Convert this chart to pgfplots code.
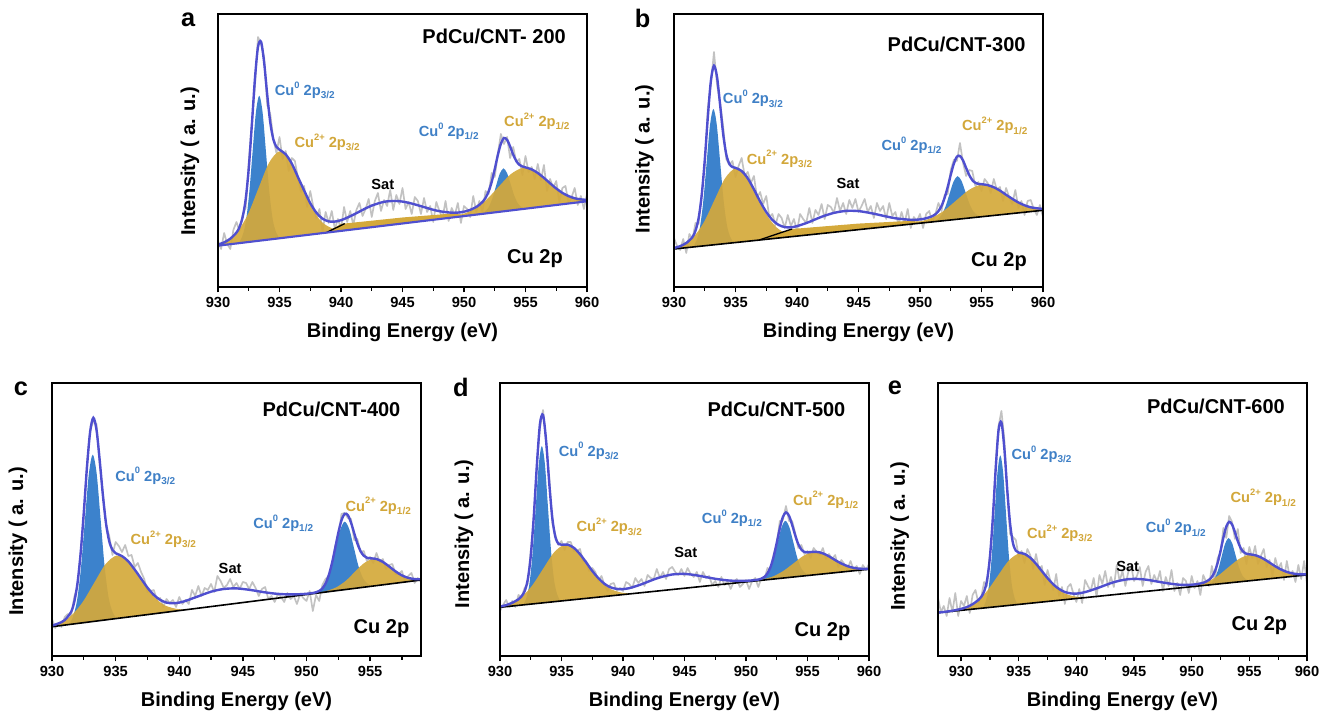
\documentclass[border=0pt]{standalone}
\usepackage{fontspec}
\setmainfont{Liberation Sans}
\usepackage{pgfplots}
\pgfplotsset{compat=1.18}
\definecolor{cublue}{HTML}{3C82CC}
\definecolor{cugold}{HTML}{D4A93B}
\definecolor{envc}{HTML}{4F4FCF}
\definecolor{rawgray}{HTML}{C2C2C2}
\definecolor{lblblue}{HTML}{3F80C6}
\definecolor{lblgold}{HTML}{D2A73A}
\newcommand{\sups}[1]{\raisebox{0.95ex}{\fontsize{7}{7}\selectfont #1}}
\newcommand{\subs}[1]{\raisebox{-0.45ex}{\fontsize{7.5}{7.5}\selectfont #1}}
\pgfplotsset{xpsaxis/.style={
  scale only axis, width=276.75pt, height=204.75pt, anchor=south west,
  ymin=0, ymax=273, ytick=\empty,
  xtick distance=5, minor x tick num=1,
  tick align=outside, xtick pos=left,
  major tick length=4pt, minor tick length=3pt,
  axis line style={line width=1.3pt},
  every tick/.style={black, line width=1pt},
  tick label style={font=\fontsize{11}{11}\selectfont\bfseries},
  /pgf/number format/assume math mode=true,
  /pgf/number format/1000 sep={},
  xlabel={Binding Energy (eV)}, ylabel={Intensity ( a. u.)},
  label style={font=\fontsize{15}{15}\selectfont\bfseries},
  xlabel style={at={(axis description cs:0.5,-0.168)}, anchor=center},
  ylabel style={anchor=center},
  clip mode=individual, axis on top,
}}
\tikzset{
rawline/.style={rawgray, line width=1.25pt, line join=round},
envline/.style={envc, line width=1.8pt, smooth},
bluefill/.style={fill=cublue, draw=none, smooth},
goldfill/.style={fill=cugold, fill opacity=0.92, draw=none, smooth},
ttl/.style={anchor=east, inner sep=0pt, font=\fontsize{15}{15}\selectfont\bfseries},
lbb/.style={anchor=west, inner sep=0pt, text=lblblue, font=\fontsize{11}{11}\selectfont\bfseries},
lbg/.style={anchor=west, inner sep=0pt, text=lblgold, font=\fontsize{11}{11}\selectfont\bfseries},
sat/.style={anchor=center, inner sep=0pt, font=\fontsize{11}{11}\selectfont\bfseries},
pl/.style={anchor=center, inner sep=0pt, font=\fontsize{19}{19}\selectfont\bfseries},
}
\begin{document}
\begin{tikzpicture}
\path[use as bounding box] (0,0) rectangle (991.5pt,534pt);
% ---------------- a
\begin{axis}[xpsaxis, at={(163.5pt,318.75pt)}, xmin=930, xmax=960,
  ylabel style={at={(axis description cs:-0.076,0.46)}}]
\addplot[rawline] coordinates {(930,46)(930.25,38)(930.5,54)(930.75,43)(931,38)(931.25,57)(931.5,65)(931.75,56)(932,72)(932.25,79)(932.5,125)(932.75,165)(933,200)(933.25,250)(933.5,243)(933.75,230)(934,182)(934.25,173)(934.5,148)(934.75,134)(935,150)(935.25,128)(935.5,136)(935.75,116)(936,129)(936.25,126)(936.5,109)(936.75,95)(937,101)(937.25,80)(937.5,96)(937.75,80)(938,69)(938.25,78)(938.5,55)(938.75,75)(939,64)(939.25,76)(939.5,58)(939.75,68)(940,58)(940.25,80)(940.5,65)(940.75,76)(941,62)(941.25,77)(941.5,84)(941.75,71)(942,78)(942.25,88)(942.5,70)(942.75,86)(943,94)(943.25,76)(943.5,87)(943.75,81)(944,97)(944.25,77)(944.5,92)(944.75,83)(945,99)(945.25,78)(945.5,85)(945.75,73)(946,90)(946.25,86)(946.5,73)(946.75,89)(947,75)(947.25,81)(947.5,65)(947.75,85)(948,76)(948.25,69)(948.5,86)(948.75,66)(949,79)(949.25,72)(949.5,84)(949.75,64)(950,81)(950.25,78)(950.5,70)(950.75,91)(951,75)(951.25,86)(951.5,75)(951.75,96)(952,93)(952.25,114)(952.5,110)(952.75,133)(953,153)(953.25,143)(953.5,150)(953.75,129)(954,140)(954.25,125)(954.5,128)(954.75,112)(955,131)(955.25,115)(955.5,120)(955.75,108)(956,123)(956.25,107)(956.5,122)(956.75,96)(957,108)(957.25,99)(957.5,106)(957.75,85)(958,99)(958.25,101)(958.5,84)(958.75,90)(959,99)(959.25,82)(959.5,91)(959.75,78)(960,93)};
\addplot[fill=cugold, draw=none] coordinates {(938.8,54.3)(940,63.1)(945,69.5)(949,73.4)(950.5,71.6)};
\addplot[bluefill] coordinates {(931.70,43.9)(931.975,50.7)(932.25,64.3)(932.525,92.2)(932.80,133.4)(933.075,173.9)(933.35,191.3)(933.625,174.7)(933.90,135.0)(934.175,94.6)(934.45,67.5)(934.725,54.7)(935.00,48.7)};
\addplot[bluefill] coordinates {(951.4,72.9)(951.7,75.3)(952.0,79.6)(952.3,88.3)(952.6,100.8)(952.9,113.1)(953.2,118.6)(953.5,113.9)(953.8,102.6)(954.1,90.9)(954.4,83.2)(954.7,79.7)(955.0,78.3)};
\addplot[goldfill] coordinates {(929.9,41.1)(930.75,46.2)(931.6,55.5)(932.45,73.1)(933.3,99.0)(934.15,124.2)(935.0,135.7)(935.85,126.8)(936.7,104.0)(937.55,80.7)(938.4,65.5)(939.25,58.8)(940.1,56.3)};
\addplot[goldfill] coordinates {(948.8,69.2)(949.8,72.5)(950.8,77.7)(951.8,87.0)(952.8,100.0)(953.8,112.8)(954.8,119.1)(955.8,115.8)(956.8,106.0)(957.8,95.8)(958.8,89.5)(959.8,87.3)(960.8,87.0)};
\addplot[black, line width=1pt] coordinates {(938.8,54.3)(940.3,63.4)};
\addplot[envc, line width=1.6pt] coordinates {(930,41.3)(960,85.7)};
\addplot[envline] coordinates {(930,42.4)(930.5,44.6)(931,48.3)(931.5,54.4)(931.75,60.0)(932,69.7)(932.25,87.7)(932.5,118.4)(932.75,161.6)(933,207.7)(933.25,239.9)(933.5,245.2)(933.75,224.6)(934,192.5)(934.25,164.5)(934.5,147.6)(934.75,140.2)(935,137.3)(935.5,132.7)(936,123.4)(936.5,109.9)(937,96.6)(937.5,83.8)(938,74.2)(938.5,68.3)(939,65.6)(939.5,65.4)(940,66.8)(940.5,69.3)(941,72.2)(941.5,75.4)(942,78.6)(942.5,81.4)(943,83.5)(943.5,85.2)(944,85.9)(944.5,86.0)(945,85.4)(945.5,84.2)(946,82.6)(946.5,80.8)(947,79.0)(947.5,77.2)(948,75.8)(948.5,74.9)(949,74.3)(949.5,74.4)(950,75.3)(950.5,77.1)(951,80.0)(951.25,82.2)(951.5,85.0)(951.75,89.1)(952,95.5)(952.25,105.0)(952.5,117.9)(952.75,131.9)(953,143.3)(953.25,149.0)(953.5,147.2)(953.75,140.5)(954,132.3)(954.25,126.0)(954.5,122.2)(954.75,120.5)(955,119.6)(955.5,117.6)(956,114.0)(956.5,109.1)(957,103.7)(957.5,98.5)(958,94.1)(958.5,90.9)(959,88.7)(959.5,87.6)(960,87.1)};
\node[ttl] at (axis cs:958.3,250.7) {PdCu/CNT- 200};
\node[ttl] at (axis cs:958.05,28) {Cu 2p};
\node[lbb] at (axis cs:934.6,196.7) {Cu\sups{0} 2p\subs{3/2}};
\node[lbg] at (axis cs:936.2,144.7) {Cu\sups{2+} 2p\subs{3/2}};
\node[sat] at (axis cs:943.4,103) {Sat};
\node[lbb] at (axis cs:946.3,155.7) {Cu\sups{0} 2p\subs{1/2}};
\node[lbg] at (axis cs:953.25,165.7) {Cu\sups{2+} 2p\subs{1/2}};
\node[pl] at (axis description cs:-0.081,0.978) {a};
\end{axis}
% ---------------- b
\begin{axis}[xpsaxis, at={(505.5pt,318.75pt)}, xmin=930, xmax=960,
  ylabel style={at={(axis description cs:-0.08,0.469)}}]
\addplot[rawline] coordinates {(930,49)(930.25,41)(930.5,37)(930.75,48)(931,34)(931.25,53)(931.5,48)(931.75,64)(932,63)(932.25,93)(932.5,120)(932.75,179)(933,203)(933.25,235)(933.5,202)(933.75,184)(934,160)(934.25,128)(934.5,122)(934.75,126)(935,110)(935.25,121)(935.5,129)(935.75,111)(936,115)(936.25,104)(936.5,111)(936.75,89)(937,95)(937.25,83)(937.5,91)(937.75,70)(938,73)(938.25,62)(938.5,73)(938.75,69)(939,59)(939.25,72)(939.5,61)(939.75,68)(940,56)(940.25,73)(940.5,68)(940.75,64)(941,79)(941.25,64)(941.5,77)(941.75,72)(942,83)(942.25,68)(942.5,82)(942.75,80)(943,74)(943.25,89)(943.5,76)(943.75,84)(944,73)(944.25,87)(944.5,79)(944.75,88)(945,75)(945.25,81)(945.5,88)(945.75,75)(946,81)(946.25,69)(946.5,84)(946.75,76)(947,81)(947.25,68)(947.5,84)(947.75,71)(948,75)(948.25,62)(948.5,75)(948.75,64)(949,78)(949.25,59)(949.5,70)(949.75,66)(950,73)(950.25,59)(950.5,73)(950.75,76)(951,65)(951.25,73)(951.5,84)(951.75,76)(952,92)(952.25,93)(952.5,117)(952.75,127)(953,126)(953.25,144)(953.5,124)(953.75,111)(954,117)(954.25,116)(954.5,101)(954.75,105)(955,96)(955.25,108)(955.5,104)(955.75,94)(956,108)(956.25,97)(956.5,100)(956.75,86)(957,99)(957.25,90)(957.5,83)(957.75,97)(958,79)(958.25,86)(958.5,72)(958.75,86)(959,87)(959.25,78)(959.5,72)(959.75,82)(960,70)};
\addplot[fill=cugold, draw=none] coordinates {(936.9,46.9)(939.6,58)(945,63.4)(949,66.0)(951,65.1)};
\addplot[bluefill] coordinates {(931.55,40.0)(931.825,46.3)(932.1,59.1)(932.375,85.2)(932.65,123.9)(932.925,161.7)(933.2,178.1)(933.475,162.5)(933.75,125.3)(934.025,87.4)(934.3,61.9)(934.575,49.9)(934.85,44.2)};
\addplot[bluefill] coordinates {(951.1,65.3)(951.425,67.6)(951.75,71.9)(952.075,80.5)(952.4,93.1)(952.725,105.3)(953.05,110.8)(953.375,106.1)(953.7,94.7)(954.025,83.1)(954.35,75.3)(954.675,71.8)(955.0,70.3)};
\addplot[goldfill] coordinates {(929.9,37.9)(930.75,42.2)(931.6,50.1)(932.45,65.2)(933.3,87.2)(934.15,108.7)(935.0,118.5)(935.85,110.9)(936.7,91.6)(937.55,71.8)(938.4,58.9)(939.25,53.2)(940.1,51.1)};
\addplot[goldfill] coordinates {(949,62.6)(950,65.3)(951,69.4)(952,76.8)(953,87.1)(954,97.2)(955,102.3)(956,99.8)(957,92.3)(958,84.6)(959,79.8)(960,78.2)(961,78.0)};
\addplot[black, line width=1pt] coordinates {(936.9,46.9)(939.6,58)};
\addplot[black, line width=1.2pt] coordinates {(930,38)(960,76.7)};
\addplot[envline] coordinates {(930,39.0)(930.5,40.8)(931,44.0)(931.5,49.9)(931.75,56.4)(932,68.8)(932.25,91.5)(932.5,126.8)(932.75,169.8)(933,206.3)(933.25,221.3)(933.5,209.9)(933.75,182.0)(934,152.7)(934.25,132.6)(934.5,123.1)(934.75,120.0)(935,119.1)(935.5,116.0)(936,108.6)(936.5,97.6)(937,85.6)(937.5,75.0)(938,67.0)(938.5,62.1)(939,59.9)(939.5,59.6)(940,60.9)(940.5,62.8)(941,65.1)(941.5,67.7)(942,70.2)(942.5,72.3)(943,74.1)(943.5,75.3)(944,76.1)(944.5,76.2)(945,75.9)(945.5,75.0)(946,73.9)(946.5,72.6)(947,71.2)(947.5,69.9)(948,68.7)(948.5,68.0)(949,67.4)(949.5,67.1)(950,67.6)(950.5,68.7)(951,70.8)(951.25,72.7)(951.5,75.9)(951.75,81.0)(952,89.1)(952.25,99.8)(952.5,112.2)(952.75,123.3)(953,130.3)(953.25,131.0)(953.5,126.5)(953.75,119.0)(954,112.0)(954.25,106.9)(954.5,104.2)(954.75,103.0)(955,102.8)(955.5,101.9)(956,99.7)(956.5,96.4)(957,92.2)(957.5,88.2)(958,84.5)(958.5,81.7)(959,79.7)(959.5,78.7)(960,78.1)};
\node[ttl] at (axis cs:958.6,243) {PdCu/CNT-300};
\node[ttl] at (axis cs:958.7,25.7) {Cu 2p};
\node[lbb] at (axis cs:933.96,188.3) {Cu\sups{0} 2p\subs{3/2}};
\node[lbg] at (axis cs:935.9,128) {Cu\sups{2+} 2p\subs{3/2}};
\node[sat] at (axis cs:944.15,103.3) {Sat};
\node[lbb] at (axis cs:946.86,141.7) {Cu\sups{0} 2p\subs{1/2}};
\node[lbg] at (axis cs:953.4,161.3) {Cu\sups{2+} 2p\subs{1/2}};
\node[pl] at (axis description cs:-0.085,0.985) {b};
\end{axis}
% ---------------- c
\begin{axis}[xpsaxis, at={(39pt,42pt)}, xmin=930, xmax=959,
  ylabel style={at={(axis description cs:-0.092,0.42)}}]
\addplot[rawline] coordinates {(930,37)(930.25,28)(930.5,33)(930.75,29)(931,39)(931.25,42)(931.5,40)(931.75,59)(932,70)(932.25,104)(932.5,138)(932.75,193)(933,225)(933.25,235)(933.5,232)(933.75,191)(934,163)(934.25,131)(934.5,120)(934.75,101)(935,114)(935.25,110)(935.5,104)(935.75,111)(936,100)(936.25,101)(936.5,89)(936.75,93)(937,84)(937.25,77)(937.5,64)(937.75,65)(938,66)(938.25,56)(938.5,58)(938.75,49)(939,57)(939.25,53)(939.5,56)(939.75,49)(940,59)(940.25,52)(940.5,56)(940.75,52)(941,66)(941.25,60)(941.5,70)(941.75,60)(942,68)(942.25,66)(942.5,72)(942.75,64)(943,80)(943.25,75)(943.5,68)(943.75,71)(944,77)(944.25,69)(944.5,73)(944.75,67)(945,74)(945.25,73)(945.5,67)(945.75,74)(946,68)(946.25,60)(946.5,67)(946.75,69)(947,57)(947.25,60)(947.5,54)(947.75,62)(948,59)(948.25,54)(948.5,63)(948.75,57)(949,60)(949.25,52)(949.5,62)(949.75,58)(950,55)(950.25,65)(950.5,45)(950.75,61)(951,55)(951.25,71)(951.5,77)(951.75,80)(952,89)(952.25,110)(952.5,118)(952.75,142)(953,143)(953.25,138)(953.5,137)(953.75,116)(954,117)(954.25,104)(954.5,105)(954.75,95)(955,99)(955.25,93)(955.5,103)(955.75,94)(956,97)(956.25,87)(956.5,91)(956.75,92)(957,82)(957.25,82)(957.5,85)(957.75,74)(958,80)(958.25,83)(958.5,73)(958.75,78)(959,74)};
\addplot[bluefill] coordinates {(931.34,31.4)(931.65,39.2)(931.96,55.0)(932.27,87.1)(932.58,134.7)(932.89,181.3)(933.2,201.4)(933.51,182.3)(933.82,136.7)(934.13,90.1)(934.44,59.0)(934.75,44.2)(935.06,37.4)};
\addplot[bluefill] coordinates {(950.84,62.8)(951.2,66.4)(951.56,73.2)(951.92,86.7)(952.28,106.3)(952.64,125.7)(953.0,134.3)(953.36,126.9)(953.72,108.7)(954.08,90.1)(954.44,77.8)(954.8,72.2)(955.16,69.8)};
\addplot[goldfill] coordinates {(929.7,28.8)(930.6,33.1)(931.5,40.2)(932.4,53.7)(933.3,72.8)(934.2,91.7)(935.1,100.5)(936.0,94.6)(936.9,78.6)(937.8,62.4)(938.7,51.8)(939.6,47.6)(940.5,46.2)};
\addplot[goldfill] coordinates {(951.0,63.1)(951.7,65.5)(952.4,69.1)(953.1,75.3)(953.8,84.1)(954.5,92.6)(955.2,96.9)(955.9,94.8)(956.6,88.6)(957.3,82.1)(958.0,78.1)(958.7,76.7)(959.4,76.7)};
\addplot[black, line width=1.2pt] coordinates {(930,29.3)(959,76.0)};
\addplot[envline] coordinates {(930,30.4)(930.5,32.5)(931,35.9)(931.5,44.1)(931.75,54.2)(932,72.5)(932.25,102.5)(932.5,143.8)(932.75,189.0)(933,224.5)(933.25,238.2)(933.5,226.0)(933.75,195.6)(934,160.7)(934.25,132.2)(934.5,114.6)(934.75,106.1)(935,102.8)(935.5,99.9)(936,94.6)(936.5,86.4)(937,77.4)(937.5,68.4)(938,61.1)(938.5,56.1)(939,53.4)(939.5,52.7)(940,53.4)(940.5,55.1)(941,57.4)(941.5,59.7)(942,62.1)(942.5,64.3)(943,65.9)(943.5,67.0)(944,67.5)(944.5,67.6)(945,67.0)(945.5,66.2)(946,65.2)(946.5,64.1)(947,63.2)(947.5,62.4)(948,61.9)(948.5,61.6)(949,61.6)(949.5,61.8)(950,62.2)(950.5,63.0)(950.75,63.7)(951,65.0)(951.25,67.6)(951.5,72.5)(951.75,80.7)(952,92.6)(952.25,107.5)(952.5,123.1)(952.75,135.7)(953,142.2)(953.25,140.9)(953.5,133.4)(953.75,122.8)(954,112.5)(954.25,104.8)(954.5,100.3)(954.75,98.2)(955,97.7)(955.5,97.0)(956,94.1)(956.5,89.5)(957,84.6)(957.5,80.6)(958,78.1)(958.5,76.9)(959,76.7)};
\node[ttl] at (axis cs:957.4,246.7) {PdCu/CNT-400};
\node[ttl] at (axis cs:958.1,27.7) {Cu 2p};
\node[lbb] at (axis cs:934.96,180) {Cu\sups{0} 2p\subs{3/2}};
\node[lbg] at (axis cs:936.16,116.7) {Cu\sups{2+} 2p\subs{3/2}};
\node[sat] at (axis cs:944.0,87.7) {Sat};
\node[lbb] at (axis cs:945.8,132.7) {Cu\sups{0} 2p\subs{1/2}};
\node[lbg] at (axis cs:953.05,150) {Cu\sups{2+} 2p\subs{1/2}};
\node[pl] at (axis description cs:-0.084,0.978) {c};
\end{axis}
% ---------------- d
\begin{axis}[xpsaxis, at={(375pt,42pt)}, xmin=930, xmax=960,
  ylabel style={at={(axis description cs:-0.098,0.447)}}]
\addplot[rawline] coordinates {(930,45)(930.25,51)(930.5,56)(930.75,49)(931,55)(931.25,49)(931.5,61)(931.75,59)(932,68)(932.25,72)(932.5,105)(932.75,138)(933,192)(933.25,228)(933.5,246)(933.75,213)(934,180)(934.25,133)(934.5,121)(934.75,111)(935,115)(935.25,106)(935.5,114)(935.75,114)(936,105)(936.25,105)(936.5,107)(936.75,95)(937,95)(937.25,85)(937.5,88)(937.75,84)(938,75)(938.25,80)(938.5,71)(938.75,65)(939,72)(939.25,73)(939.5,65)(939.75,68)(940,65)(940.25,74)(940.5,72)(940.75,68)(941,78)(941.25,73)(941.5,77)(941.75,70)(942,81)(942.25,78)(942.5,77)(942.75,87)(943,78)(943.25,84)(943.5,77)(943.75,87)(944,89)(944.25,84)(944.5,81)(944.75,87)(945,80)(945.25,88)(945.5,82)(945.75,79)(946,84)(946.25,74)(946.5,84)(946.75,78)(947,80)(947.25,71)(947.5,75)(947.75,69)(948,79)(948.25,71)(948.5,75)(948.75,67)(949,74)(949.25,77)(949.5,69)(949.75,72)(950,76)(950.25,67)(950.5,75)(950.75,78)(951,69)(951.25,78)(951.5,77)(951.75,88)(952,85)(952.25,102)(952.5,112)(952.75,135)(953,136)(953.25,150)(953.5,135)(953.75,135)(954,123)(954.25,108)(954.5,111)(954.75,102)(955,105)(955.25,98)(955.5,108)(955.75,104)(956,101)(956.25,108)(956.5,97)(956.75,102)(957,97)(957.25,101)(957.5,89)(957.75,96)(958,92)(958.25,87)(958.5,95)(958.75,86)(959,90)(959.25,82)(959.5,91)(959.75,86)(960,92)};
\addplot[bluefill] coordinates {(931.9,51.1)(932.15,58.3)(932.4,72.9)(932.65,103.0)(932.9,147.6)(933.15,191.3)(933.4,210)(933.65,191.9)(933.9,148.8)(934.15,105.0)(934.4,75.5)(934.65,61.5)(934.9,54.9)};
\addplot[bluefill] coordinates {(951.25,75.7)(951.575,78.6)(951.9,84.3)(952.225,95.5)(952.55,112.0)(952.875,128.1)(953.2,135.2)(953.525,128.9)(953.85,113.6)(954.175,97.9)(954.5,87.6)(954.825,82.8)(955.15,80.7)};
\addplot[goldfill] coordinates {(929.9,48.5)(930.8,52.2)(931.7,58.4)(932.6,70.2)(933.5,87.1)(934.4,103.7)(935.3,111.4)(936.2,105.9)(937.1,91.7)(938.0,77.0)(938.9,67.6)(939.8,63.6)(940.7,62.3)};
\addplot[goldfill] coordinates {(950.7,75.0)(951.5,77.0)(952.3,80.1)(953.1,85.6)(953.9,93.0)(954.7,100.4)(955.5,104.1)(956.3,102.4)(957.1,97.0)(957.9,91.7)(958.7,88.3)(959.5,87.2)(960.3,87.2)};
\addplot[black, line width=1.2pt] coordinates {(930,48.7)(960,86.8)};
\addplot[envline] coordinates {(930,49.4)(930.5,50.9)(931,53.2)(931.5,56.7)(931.75,59.6)(932,64.7)(932.25,76.0)(932.5,99.7)(932.75,140.2)(933,191.3)(933.25,232.2)(933.5,241.0)(933.75,215.0)(934,173.3)(934.25,138.4)(934.5,119.1)(934.75,112.2)(935,111.2)(935.5,111.4)(936,108.2)(936.5,101.9)(937,93.7)(937.5,85.1)(938,77.8)(938.5,72.1)(939,68.6)(939.5,67.1)(940,66.9)(940.5,67.8)(941,69.6)(941.5,71.7)(942,74.1)(942.5,76.5)(943,78.6)(943.5,80.2)(944,81.5)(944.5,82.0)(945,82.1)(945.5,81.5)(946,80.6)(946.5,79.5)(947,78.3)(947.5,77.2)(948,76.3)(948.5,75.6)(949,75.2)(949.5,75.1)(950,75.2)(950.5,75.6)(951,76.4)(951.25,77.3)(951.5,79.1)(951.75,82.7)(952,89.2)(952.25,99.4)(952.5,113.2)(952.75,127.7)(953,139.1)(953.25,143.6)(953.5,140.2)(953.75,131.2)(954,120.7)(954.25,111.9)(954.5,106.4)(954.75,104.0)(955,103.6)(955.5,104.2)(956,103.6)(956.5,101.3)(957,97.8)(957.5,94.1)(958,91.1)(958.5,88.9)(959,87.6)(959.5,87.2)(960,87.2)};
\node[ttl] at (axis cs:958.1,246.7) {PdCu/CNT-500};
\node[ttl] at (axis cs:958.5,24.3) {Cu 2p};
\node[lbb] at (axis cs:934.76,205) {Cu\sups{0} 2p\subs{3/2}};
\node[lbg] at (axis cs:936.2,129.3) {Cu\sups{2+} 2p\subs{3/2}};
\node[sat] at (axis cs:945.1,104) {Sat};
\node[lbb] at (axis cs:946.4,137.7) {Cu\sups{0} 2p\subs{1/2}};
\node[lbg] at (axis cs:953.8,156) {Cu\sups{2+} 2p\subs{1/2}};
\node[pl] at (axis description cs:-0.106,0.982) {d};
\end{axis}
% ---------------- e
\begin{axis}[xpsaxis, at={(703.5pt,42pt)}, xmin=928, xmax=960,
  ylabel style={at={(axis description cs:-0.104,0.438)}}]
\addplot[rawline] coordinates {(928,58)(928.25,44)(928.5,50)(928.75,40)(929,58)(929.25,44)(929.5,63)(929.75,40)(930,55)(930.25,50)(930.5,60)(930.75,43)(931,61)(931.25,66)(931.5,53)(931.75,59)(932,74)(932.25,70)(932.5,101)(932.75,128)(933,192)(933.25,230)(933.5,245)(933.75,217)(934,164)(934.25,122)(934.5,119)(934.75,116)(935,99)(935.25,105)(935.5,93)(935.75,107)(936,101)(936.25,87)(936.5,102)(936.75,87)(937,90)(937.25,71)(937.5,86)(937.75,75)(938,66)(938.25,82)(938.5,60)(938.75,69)(939,52)(939.25,69)(939.5,72)(939.75,62)(940,54)(940.25,67)(940.5,53)(940.75,76)(941,70)(941.25,65)(941.5,78)(941.75,59)(942,81)(942.25,72)(942.5,85)(942.75,69)(943,79)(943.25,69)(943.5,91)(943.75,75)(944,85)(944.25,70)(944.5,84)(944.75,90)(945,75)(945.25,80)(945.5,89)(945.75,70)(946,84)(946.25,90)(946.5,72)(946.75,81)(947,74)(947.25,85)(947.5,65)(947.75,79)(948,70)(948.25,86)(948.5,65)(948.75,73)(949,61)(949.25,78)(949.5,75)(949.75,63)(950,80)(950.25,68)(950.5,75)(950.75,61)(951,81)(951.25,74)(951.5,70)(951.75,90)(952,75)(952.25,98)(952.5,103)(952.75,128)(953,118)(953.25,140)(953.5,134)(953.75,117)(954,127)(954.25,103)(954.5,108)(954.75,92)(955,109)(955.25,98)(955.5,110)(955.75,92)(956,100)(956.25,107)(956.5,89)(956.75,96)(957,80)(957.25,98)(957.5,87)(957.75,93)(958,76)(958.25,95)(958.5,79)(958.75,85)(959,74)(959.25,91)(959.5,77)(959.75,95)(960,72)};
\addplot[bluefill] coordinates {(931.9,47.9)(932.15,54.8)(932.4,68.9)(932.65,97.8)(932.9,140.7)(933.15,182.7)(933.4,200.7)(933.65,183.3)(933.9,141.9)(934.15,99.6)(934.4,71.3)(934.65,57.8)(934.9,51.5)};
\addplot[bluefill] coordinates {(951.4,70.9)(951.7,73.2)(952.0,77.7)(952.3,86.5)(952.6,99.6)(952.9,112.4)(953.2,118.0)(953.5,113.1)(953.8,101.0)(954.1,88.7)(954.4,80.5)(954.7,76.8)(955.0,75.1)};
\addplot[goldfill] coordinates {(929.4,45.0)(930.35,48.3)(931.3,54.1)(932.25,64.9)(933.2,80.4)(934.15,95.6)(935.1,102.7)(936.05,97.8)(937.0,84.8)(937.95,71.7)(938.9,63.1)(939.85,59.5)(940.8,58.4)};
\addplot[goldfill] coordinates {(949.6,68.8)(950.5,71.0)(951.4,74.5)(952.3,80.4)(953.2,88.9)(954.1,97.0)(955.0,101.2)(955.9,99.2)(956.8,93.1)(957.7,86.8)(958.6,83.0)(959.5,81.6)(960.4,81.6)};
\addplot[black, line width=1.2pt] coordinates {(928,43.3)(960,81.1)};
\addplot[envline] coordinates {(928,43.4)(928.5,44.0)(929,44.8)(929.5,45.8)(930,47.1)(930.5,48.9)(931,51.8)(931.5,56.0)(931.75,59.1)(932,64.5)(932.25,75.6)(932.5,98.5)(932.75,137.5)(933,186.5)(933.25,225.7)(933.5,233.6)(933.75,207.9)(934,167.0)(934.25,132.5)(934.5,112.9)(934.75,105.3)(935,103.4)(935.5,102.1)(936,98.3)(936.5,92.2)(937,85.0)(937.5,77.9)(938,71.6)(938.5,67.0)(939,64.0)(939.5,62.6)(940,62.4)(940.5,63.2)(941,64.7)(941.5,66.6)(942,68.6)(942.5,70.8)(943,72.9)(943.5,74.6)(944,75.9)(944.5,76.8)(945,77.1)(945.5,76.9)(946,76.4)(946.5,75.5)(947,74.5)(947.5,73.5)(948,72.6)(948.5,71.8)(949,71.2)(949.5,71.1)(950,71.3)(950.5,71.9)(951,73.2)(951.25,74.4)(951.5,76.1)(951.75,79.1)(952,84.4)(952.25,93.1)(952.5,105.0)(952.75,118.4)(953,129.4)(953.25,134.2)(953.5,131.5)(953.75,123.7)(954,114.8)(954.25,107.8)(954.5,103.9)(954.75,102.2)(955,101.7)(955.5,100.8)(956,98.6)(956.5,95.3)(957,91.5)(957.5,88.0)(958,85.2)(958.5,83.2)(959,82.1)(959.5,81.6)(960,81.6)};
\node[ttl] at (axis cs:958.1,250) {PdCu/CNT-600};
\node[ttl] at (axis cs:958.3,30) {Cu 2p};
\node[lbb] at (axis cs:934.36,201.7) {Cu\sups{0} 2p\subs{3/2}};
\node[lbg] at (axis cs:935.7,122.7) {Cu\sups{2+} 2p\subs{3/2}};
\node[sat] at (axis cs:944.45,90) {Sat};
\node[lbb] at (axis cs:946.0,128.3) {Cu\sups{0} 2p\subs{1/2}};
\node[lbg] at (axis cs:953.35,158.3) {Cu\sups{2+} 2p\subs{1/2}};
\node[pl] at (axis description cs:-0.117,0.984) {e};
\end{axis}
\end{tikzpicture}
\end{document}
